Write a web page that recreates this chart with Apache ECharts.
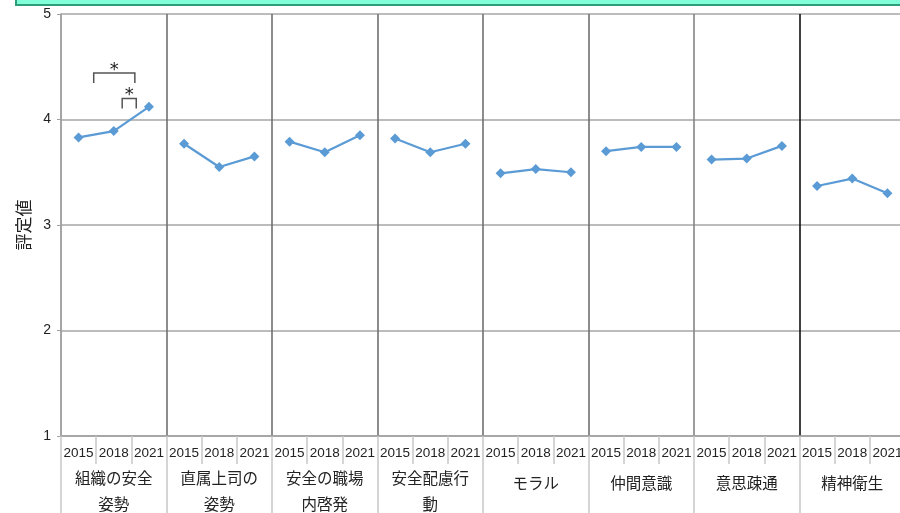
<!DOCTYPE html>
<html>
<head>
<meta charset="utf-8">
<script src="https://cdn.jsdelivr.net/npm/echarts@6/dist/echarts.min.js"></script>
<style>
html,body{margin:0;padding:0;background:#fff;}
#main{width:900px;height:513px;}
</style>
</head>
<body>
<div id="main"></div>
<script>
// 項目と年度
var groupNames = ['組織の安全\n姿勢', '直属上司の\n姿勢', '安全の職場\n内啓発', '安全配慮行\n動', 'モラル', '仲間意識', '意思疎通', '精神衛生'];
var yearNames = ['2015', '2018', '2021'];
// 評定値（各項目 2015/2018/2021）
var scores = [
	[3.83, 3.89, 4.12],
	[3.77, 3.55, 3.65],
	[3.79, 3.69, 3.85],
	[3.82, 3.69, 3.77],
	[3.49, 3.53, 3.50],
	[3.70, 3.74, 3.74],
	[3.62, 3.63, 3.75],
	[3.37, 3.44, 3.30]
];
// 有意差の括弧（カテゴリ位置と評定値で指定）
var sigFrom = [0.43, 1.24];
var sigTo = [1.60, 1.64];
var sigTop = [4.44, 4.20];
var sigLeg = [0.095, 0.095];
var sigMark = ['*', '*'];

var yearCats = [];
groupNames.forEach(function() {
	yearNames.forEach(function(y) { yearCats.push(y); });
});

// 1行の項目名は少し下げる
var groupCats = groupNames.map(function(n) {
	if (n.indexOf('\n') < 0) return { value: n, textStyle: { padding: [5, 0, 0, 0] } };
	return n;
});

var seriesList = [];
scores.forEach(function(vals, g) {
	var d = [];
	for (var i = 0; i < yearCats.length; i++) d.push(null);
	vals.forEach(function(v, k) { d[g * 3 + k] = v; });
	seriesList.push({
		type: 'line',
		xAxisIndex: 0,
		data: d,
		symbol: 'diamond',
		symbolSize: 10,
		lineStyle: { color: '#5B9BD5', width: 2.2 },
		itemStyle: { color: '#5B9BD5' },
		connectNulls: false,
		silent: true,
		z: 5
	});
});

var myChart = echarts.init(document.getElementById('main'));
var option = {
	animation: false,
	grid: { left: 61, top: 14, width: 844, height: 422, outerBoundsMode: 'none', containLabel: false },
	xAxis: [{
		type: 'category',
		position: 'bottom',
		data: yearCats,
		axisLine: { onZero: false, lineStyle: { color: '#a0a0a0', width: 1.5 } },
		axisTick: { show: true, interval: 0, length: 28, lineStyle: { color: '#c8c8c8', width: 1.5 } },
		axisLabel: { interval: 0, margin: 10, fontSize: 13.5, color: '#222', fontFamily: 'Liberation Sans' },
		splitLine: { show: false }
	}, {
		type: 'category',
		position: 'bottom',
		data: groupCats,
		axisLine: { show: false, onZero: false },
		axisTick: { show: true, interval: 0, length: 77, lineStyle: { color: '#c8c8c8', width: 1.5 } },
		axisLabel: { interval: 0, margin: 29, fontSize: 15.5, lineHeight: 26, color: '#222', fontFamily: 'Noto Sans CJK JP' },
		splitLine: {
			show: true, interval: 0,
			lineStyle: { width: 1.6, color: ['#a0a0a0', '#707070', '#707070', '#707070', '#707070', '#707070', '#858585', '#111111', '#707070'] }
		}
	}],
	yAxis: {
		type: 'value',
		min: 1,
		max: 5,
		interval: 1,
		name: '評定値',
		nameLocation: 'middle',
		nameGap: 25,
		nameTextStyle: { fontSize: 17, color: '#222', fontFamily: 'Noto Sans CJK JP' },
		axisLine: { show: true, lineStyle: { color: '#a0a0a0', width: 1.5 } },
		axisTick: { show: true, length: 4, lineStyle: { color: '#a0a0a0' } },
		axisLabel: { fontSize: 14, color: '#222', margin: 10, fontFamily: 'Liberation Sans' },
		splitLine: { show: true, lineStyle: { color: '#a6a6a6', width: 1.5 } }
	},
	series: seriesList
};
myChart.setOption(option);

// 有意差の括弧を描く
var graphics = [{
	type: 'rect',
	shape: { x: 16, y: -12, width: 900, height: 17 },
	style: { fill: '#80FFD8', stroke: '#2E9E7A', lineWidth: 2 },
	z: 100
}];
var c0 = myChart.convertToPixel({ xAxisIndex: 0 }, 0);
var c1 = myChart.convertToPixel({ xAxisIndex: 0 }, 1);
var step = c1 - c0;
for (var i = 0; i < sigFrom.length; i++) {
	var x1 = c0 + sigFrom[i] * step;
	var x2 = c0 + sigTo[i] * step;
	var yt = myChart.convertToPixel({ yAxisIndex: 0 }, sigTop[i]);
	var yb = myChart.convertToPixel({ yAxisIndex: 0 }, sigTop[i] - sigLeg[i]);
	graphics.push({
		type: 'polyline',
		shape: { points: [[x1, yb], [x1, yt], [x2, yt], [x2, yb]] },
		style: { stroke: '#555', lineWidth: 1.5, fill: null },
		z: 50
	});
	graphics.push({
		type: 'text',
		x: (x1 + x2) / 2,
		y: yt - 3,
		style: { text: sigMark[i], fontSize: 18, fill: '#222', align: 'center', verticalAlign: 'middle', fontFamily: 'DejaVu Sans' },
		z: 50
	});
}
myChart.setOption({ graphic: graphics });
</script>
</body>
</html>
